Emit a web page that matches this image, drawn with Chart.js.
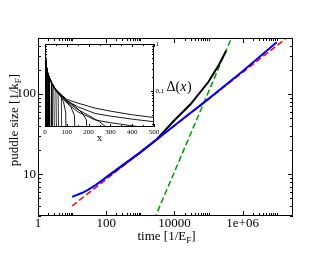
<!DOCTYPE html>
<html lang="en">
  <head>
    <meta charset="UTF-8" />
    <title>puddle size</title>
    <style>
      body { margin: 0; background: #fff; }
      #wrap { position: relative; width: 330px; height: 255px; }
      canvas { position: absolute; }
    </style>
  </head>
  <body>
    <div id="wrap">
      <canvas id="main" width="330" height="255" style="left:0;top:0"></canvas>
      <canvas id="inset" width="135" height="110" style="left:40px;top:36px"></canvas>
    </div>
    <script src="https://cdn.jsdelivr.net/npm/chart.js@4/dist/chart.umd.min.js"></script>
    <script>
      // main plot: puddle size vs time
      var blueT = [10, 20, 30, 50, 100, 200, 500, 1000, 1e4, 1e5, 1e6, 1e7];
      var blueY = [5.2, 5.85, 6.4, 7.35, 9.1, 11.3, 15.0, 18.7, 40.5, 87, 192, 443];
      var blackT = [100, 1000, 3000, 1e4, 3e4, 1e5, 2e5, 3.3e5];
      var blackY = [9.1, 18.7, 27, 47, 75, 142, 230, 347];
      var redT = [10, 2e7];
      var redY = [4.0, 505];
      var greenT = [2000, 6e5];
      var greenY = [2.13, 638];

      var xMajor = [1, 100, 1e4, 1e6];
      var xLabels = ["1", "100", "10000", "1e+06"];
      var yMajor = [10, 100];
      var yLabels = ["10", "100"];

      // inset: Delta(x)
      var envX = [0, 2, 5, 10, 15, 20, 30, 40, 50, 60, 75];
      var envY = [0.6, 0.45, 0.33, 0.25, 0.21, 0.185, 0.15, 0.125, 0.108, 0.095, 0.082];
      var shortEnds = [4, 7, 10, 13, 17, 21, 26, 32, 39, 47, 56, 66, 78];
      var curve100 = [[0,0.6],[10,0.25],[30,0.15],[50,0.105],[70,0.08],[85,0.058],[95,0.035],[100,0.001]];
      var curve145 = [[0,0.6],[10,0.25],[30,0.15],[50,0.104],[80,0.074],[100,0.06],[120,0.044],[135,0.03],[145,0.001]];
      var curve200 = [[0,0.6],[10,0.25],[30,0.15],[50,0.103],[100,0.063],[140,0.046],[170,0.034],[190,0.024],[200,0.001]];
      var curve290 = [[0,0.6],[10,0.25],[30,0.15],[50,0.102],[100,0.06],[150,0.04],[200,0.03],[250,0.022],[280,0.017],[290,0.001]];
      var curve470 = [[0,0.6],[10,0.25],[30,0.15],[50,0.1],[100,0.055],[150,0.036],[230,0.024],[300,0.021],[400,0.018],[460,0.0165],[470,0.001]];
      var curveL2 = [[0,0.6],[10,0.25],[30,0.15],[50,0.102],[100,0.062],[150,0.046],[230,0.033],[300,0.029],[400,0.025],[500,0.022]];
      var curveL1 = [[0,0.6],[10,0.25],[30,0.15],[50,0.105],[100,0.066],[150,0.055],[230,0.043],[300,0.037],[400,0.031],[500,0.027]];

      var serif = "'Liberation Serif', 'DejaVu Serif', serif";

      function pts(xs, ys) {
        return xs.map(function (v, i) { return { x: v, y: ys[i] }; });
      }

      function line(data, color, width, dash, order) {
        return { data: data, borderColor: color, borderWidth: width, borderDash: dash || [],
                 showLine: true, pointRadius: 0, fill: false, order: order };
      }

      // inward ticks on both sides of an axis
      function ticksX(ctx, sc, a, vals, len) {
        vals.forEach(function (v) {
          if (v < sc.min || v > sc.max) return;
          var px = Math.round(sc.getPixelForValue(v)) + 0.5;
          ctx.moveTo(px, a.bottom); ctx.lineTo(px, a.bottom - len);
          ctx.moveTo(px, a.top); ctx.lineTo(px, a.top + len);
        });
      }
      function ticksY(ctx, sc, a, vals, len) {
        vals.forEach(function (v) {
          if (v < sc.min || v > sc.max) return;
          var py = Math.round(sc.getPixelForValue(v)) + 0.5;
          ctx.moveTo(a.left, py); ctx.lineTo(a.left + len, py);
          ctx.moveTo(a.right, py); ctx.lineTo(a.right - len, py);
        });
      }
      function minors(majors, from, to) {
        var out = [];
        majors.forEach(function (m) { for (var k = from; k <= to; k++) out.push(m * k); });
        return out;
      }

      var mainDeco = {
        id: "mainDeco",
        afterDraw: function (chart) {
          var ctx = chart.ctx, a = chart.chartArea, x = chart.scales.x, y = chart.scales.y;
          ctx.save();
          ctx.strokeStyle = "#000";
          ctx.lineWidth = 1;
          ctx.beginPath();
          ctx.rect(a.left + 0.5, a.top + 0.5, a.right - a.left - 1, a.bottom - a.top - 1);
          ticksX(ctx, x, a, xMajor, 5);
          ticksX(ctx, x, a, minors(xMajor, 2, 10), 3);
          ticksY(ctx, y, a, yMajor, 5);
          ticksY(ctx, y, a, minors([1, 10, 100], 2, 9), 3);
          ctx.stroke();

          ctx.fillStyle = "#000";
          ctx.textBaseline = "alphabetic";
          ctx.textAlign = "left";
          // x title with subscript
          ctx.font = "13px " + serif;
          var t1 = "time [1/E", t3 = "]";
          var w1 = ctx.measureText(t1).width, w3 = ctx.measureText(t3).width;
          ctx.font = "9px " + serif;
          var w2 = ctx.measureText("F").width;
          var sx = 166.5 - (w1 + w2 + w3) / 2, by = 240;
          ctx.font = "13px " + serif;
          ctx.fillText(t1, sx, by);
          ctx.font = "9px " + serif;
          ctx.fillText("F", sx + w1, by + 3);
          ctx.font = "13px " + serif;
          ctx.fillText(t3, sx + w1 + w2, by);

          // y title, rotated
          ctx.save();
          ctx.translate(17.5, 120);
          ctx.rotate(-Math.PI / 2);
          var u1 = "puddle size [1/k", u3 = "]";
          var v1 = ctx.measureText(u1).width, v3 = ctx.measureText(u3).width;
          ctx.font = "9px " + serif;
          var v2 = ctx.measureText("F").width;
          var s0 = -(v1 + v2 + v3) / 2;
          ctx.font = "13px " + serif;
          ctx.fillText(u1, s0, 0);
          ctx.font = "9px " + serif;
          ctx.fillText("F", s0 + v1, 3);
          ctx.font = "13px " + serif;
          ctx.fillText(u3, s0 + v1 + v2, 0);
          ctx.restore();

          // Delta(x) label
          ctx.font = "14px " + serif;
          var dx = 166.5;
          ctx.fillText("Δ(", dx, 90.5);
          dx += ctx.measureText("Δ(").width;
          ctx.font = "italic 14px " + serif;
          ctx.fillText("x", dx, 90.5);
          dx += ctx.measureText("x").width + 0.5;
          ctx.font = "14px " + serif;
          ctx.fillText(")", dx, 90.5);
          ctx.restore();
        }
      };

      var noGrid = { display: false, drawTicks: false, tickLength: 0 };

      new Chart(document.getElementById("main"), {
        type: "scatter",
        data: {
          datasets: [
            line(pts(blueT, blueY), "#0000ff", 2, null, 0),
            line(pts(redT, redY), "#ff0000", 1.5, [6, 3], 1),
            line(pts(blackT, blackY), "#000000", 2, null, 2),
            line(pts(greenT, greenY), "#009a00", 1.5, [6, 3], 3)
          ]
        },
        options: {
          responsive: false,
          animation: false,
          events: [],
          layout: { padding: { top: 38, right: 37, left: 0, bottom: 0 } },
          plugins: { legend: { display: false }, tooltip: { enabled: false } },
          scales: {
            x: {
              type: "logarithmic", min: 1, max: 3e7,
              grid: noGrid, border: { display: false },
              afterBuildTicks: function (s) { s.ticks = xMajor.map(function (v) { return { value: v }; }); },
              afterFit: function (s) { s.height = 39; },
              ticks: { autoSkip: false, maxRotation: 0, padding: 0, color: "#000",
                       font: { family: serif, size: 13 },
                       callback: function (v, i) { return xLabels[i]; } }
            },
            y: {
              type: "logarithmic", min: 3, max: 500,
              grid: noGrid, border: { display: false },
              afterBuildTicks: function (s) { s.ticks = yMajor.map(function (v) { return { value: v }; }); },
              afterFit: function (s) { s.width = 38; },
              ticks: { autoSkip: false, padding: 2, color: "#000",
                       font: { family: serif, size: 13 },
                       callback: function (v, i) { return yLabels[i]; } }
            }
          }
        },
        plugins: [mainDeco]
      });

      // inset
      var insetXMajor = [0, 100, 200, 300, 400, 500];
      var insetYMajor = [1, 0.1];
      var insetYLabels = ["1", "0,1"];

      var insetSets = [];
      shortEnds.forEach(function (L) {
        var d = [];
        envX.forEach(function (v, i) { if (v < L) d.push({ x: v, y: envY[i] }); });
        d.push({ x: L, y: 0.001 });
        insetSets.push(line(d, "#000", 0.8, null, 1));
      });
      [curve100, curve145, curve200, curve290, curve470, curveL2, curveL1].forEach(function (c) {
        insetSets.push(line(c.map(function (p) { return { x: p[0], y: p[1] }; }), "#000", 0.9, null, 1));
      });

      var insetDeco = {
        id: "insetDeco",
        beforeDraw: function (chart) {
          var ctx = chart.ctx, a = chart.chartArea;
          ctx.save();
          ctx.fillStyle = "#fff";
          ctx.fillRect(a.left, a.top, a.right - a.left, a.bottom - a.top);
          ctx.restore();
        },
        afterDraw: function (chart) {
          var ctx = chart.ctx, a = chart.chartArea, x = chart.scales.x, y = chart.scales.y;
          ctx.save();
          ctx.strokeStyle = "#000";
          ctx.lineWidth = 1;
          ctx.beginPath();
          ctx.rect(a.left + 0.5, a.top + 0.5, a.right - a.left - 1, a.bottom - a.top - 1);
          ticksX(ctx, x, a, insetXMajor, 3);
          ticksX(ctx, x, a, [50, 150, 250, 350, 450], 2);
          ticksY(ctx, y, a, [0.1, 1], 3);
          ticksY(ctx, y, a, minors([0.01, 0.1], 2, 9), 2);
          ctx.stroke();
          ctx.fillStyle = "#000";
          ctx.font = "11px " + serif;
          ctx.textAlign = "center";
          ctx.fillText("x", 59.5, 104.5);
          ctx.restore();
        }
      };

      new Chart(document.getElementById("inset"), {
        type: "scatter",
        data: { datasets: insetSets },
        options: {
          responsive: false,
          animation: false,
          events: [],
          layout: { padding: { top: 8, right: 0, left: 5, bottom: 0 } },
          plugins: { legend: { display: false }, tooltip: { enabled: false } },
          scales: {
            x: {
              type: "linear", min: 0, max: 500,
              grid: noGrid, border: { display: false },
              afterBuildTicks: function (s) { s.ticks = insetXMajor.map(function (v) { return { value: v }; }); },
              afterFit: function (s) { s.height = 19; },
              ticks: { autoSkip: false, maxRotation: 0, padding: 1, color: "#000",
                       font: { family: serif, size: 7 } }
            },
            y: {
              type: "logarithmic", position: "right", min: 0.017, max: 1,
              grid: noGrid, border: { display: false },
              afterBuildTicks: function (s) { s.ticks = insetYMajor.map(function (v) { return { value: v }; }); },
              afterFit: function (s) { s.width = 21; },
              ticks: { autoSkip: false, padding: 1.5, color: "#000",
                       font: { family: serif, size: 7 },
                       callback: function (v, i) { return insetYLabels[i]; } }
            }
          }
        },
        plugins: [insetDeco]
      });
    </script>
  </body>
</html>
